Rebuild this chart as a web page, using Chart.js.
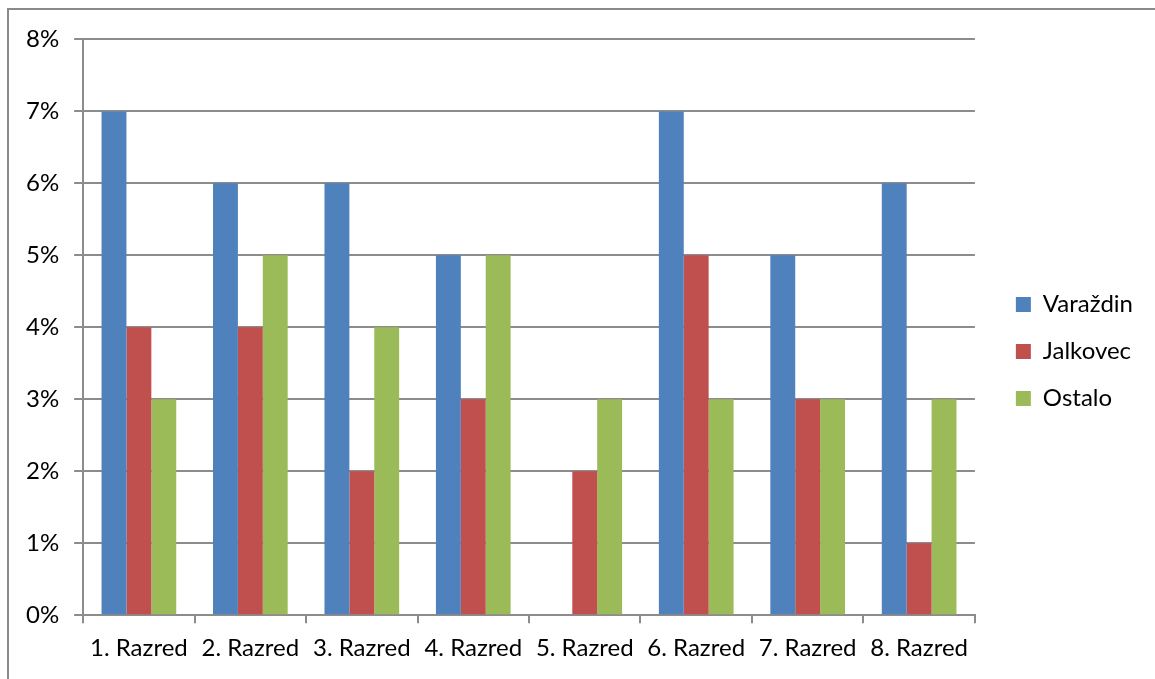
<!DOCTYPE html>
<html>
<head>
<meta charset="utf-8">
<script src="https://cdn.jsdelivr.net/npm/chart.js@4/dist/chart.umd.min.js"></script>
<style>
  html, body { margin: 0; padding: 0; background: #fff; }
  #frame {
    position: absolute; left: 7px; top: 8px;
    width: 1148px; height: 671px;
    border-left: 2px solid #8a8a8a; border-top: 2px solid #8a8a8a;
  }
  #wrap { position: absolute; left: 0; top: 0; width: 1148px; height: 671px; }
</style>
</head>
<body>
<div id="frame"><div id="wrap"><canvas id="razredChart"></canvas></div></div>
<script>
// razredi i postotci po mjestu
const categories = ['1. Razred', '2. Razred', '3. Razred', '4. Razred', '5. Razred', '6. Razred', '7. Razred', '8. Razred'];
const varazdin = [7, 6, 6, 5, 0, 7, 5, 6];
const jalkovec = [4, 4, 2, 3, 2, 5, 3, 1];
const ostalo = [3, 5, 4, 5, 3, 3, 3, 3];
const yTicks = [0, 1, 2, 3, 4, 5, 6, 7, 8];

const gridGray = '#8c8c8c';
const fontFam = 'Lato, "Liberation Sans", sans-serif';

const ctx = document.getElementById('razredChart').getContext('2d');

const razredChart = new Chart(ctx, {
    type: 'bar',
    data: {
        labels: categories,
        datasets: [
            { label: 'Varaždin', data: varazdin, backgroundColor: '#4f81bd' },
            { label: 'Jalkovec', data: jalkovec, backgroundColor: '#c0504d' },
            { label: 'Ostalo', data: ostalo, backgroundColor: '#9bbb59' }
        ]
    },
    options: {
        responsive: true,
        maintainAspectRatio: false,
        animation: false,
        layout: { padding: { left: 2, top: 19, right: 14, bottom: 7 } },
        datasets: { bar: { categoryPercentage: 0.67, barPercentage: 1.0 } },
        plugins: {
            tooltip: { enabled: false },
            legend: {
                position: 'right',
                align: 'center',
                labels: {
                    boxWidth: 15,
                    boxHeight: 15,
                    padding: 23,
                    color: '#000',
                    font: { family: fontFam, size: 24 }
                }
            }
        },
        scales: {
            x: {
                grid: { drawOnChartArea: false, drawTicks: true, tickLength: 8, color: gridGray, lineWidth: 2, offset: true },
                border: { color: gridGray, width: 2 },
                ticks: { color: '#000', font: { family: fontFam, size: 24 }, padding: 11, maxRotation: 0 }
            },
            y: {
                min: 0,
                max: 8,
                afterBuildTicks: (axis) => { axis.ticks = yTicks.map(v => ({ value: v })); },
                grid: { color: gridGray, lineWidth: 2, tickLength: 9 },
                border: { color: gridGray, width: 2 },
                ticks: { color: '#000', font: { family: fontFam, size: 24 }, padding: 15, callback: v => v + '%' }
            },
            // prazan razmak izmedju grafa i legende
            gap: {
                position: 'right',
                display: true,
                grid: { display: false },
                border: { display: false },
                ticks: { display: false },
                afterFit: (s) => { s.width = 18; }
            }
        }
    }
});
</script>
</body>
</html>
